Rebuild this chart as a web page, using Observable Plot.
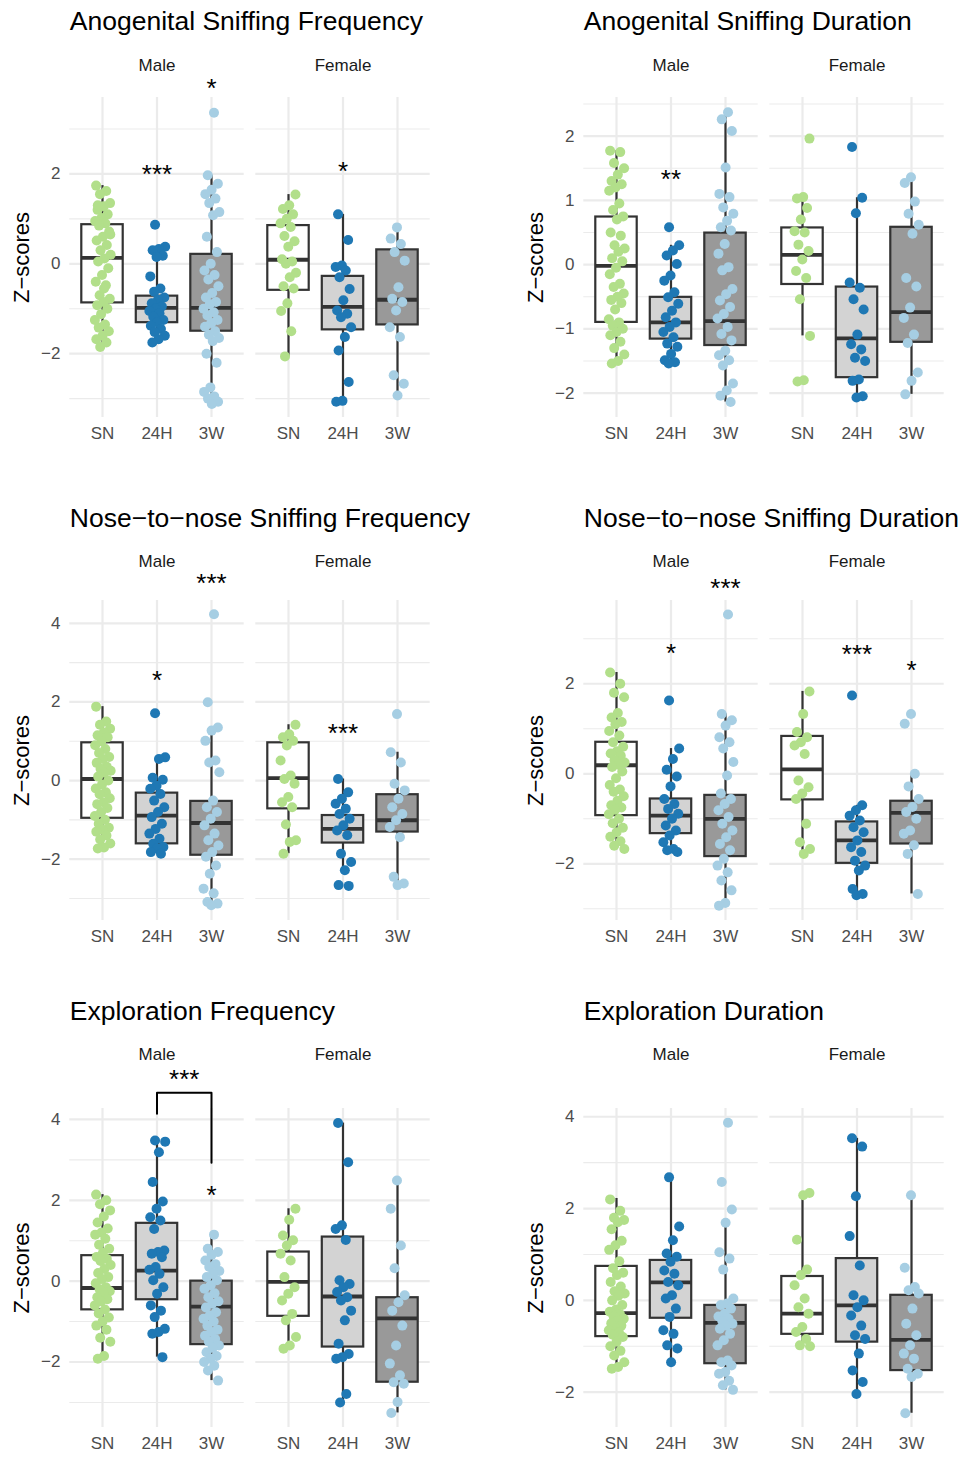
<!DOCTYPE html>
<html><head><meta charset="utf-8">
<script src="https://cdn.jsdelivr.net/npm/d3@7"></script>
<script src="https://cdn.jsdelivr.net/npm/@observablehq/plot@0.6"></script>
<style>
body{margin:0;background:#fff;}
#page{position:relative;width:963px;height:1457px;overflow:hidden;background:#fff;}
#page svg{position:absolute;overflow:visible;}
</style></head><body><div id="page"></div><script>
const groups = ["SN", "24H", "3W"];
const sexes = ["Male", "Female"];
const dotColors = ["#B2DF8A", "#1F78B4", "#A6CEE3"];
const boxFills = ["#FFFFFF", "#D3D3D3", "#999999"];

// ---- Anogenital Sniffing Frequency ----
const agfPoints = {
  "Male SN": [1.74, 1.62, 1.55, 1.35, 1.28, 1.2, 1.1, 1.02, 0.95, 0.9, 0.85, 0.72, 0.6, 0.52, 0.42, 0.3, 0.2, 0.12, 0.05, -0.1, -0.25, -0.4, -0.48, -0.7, -0.78, -0.85, -0.92, -1.0, -1.12, -1.25, -1.35, -1.42, -1.5, -1.6, -1.68, -1.75, -1.85, 0.65, -0.55, 1.3],
  "Male 24H": [0.87, 0.38, 0.33, 0.3, 0.18, 0.15, -0.28, -0.55, -0.62, -0.75, -0.8, -0.88, -0.95, -1.0, -1.05, -1.1, -1.18, -1.25, -1.3, -1.38, -1.45, -1.52, -1.6, -1.68, -1.75],
  "Male 3W": [3.36, 1.97, 1.78, 1.65, 1.55, 1.45, 1.35, 1.15, 1.08, 0.6, 0.26, 0.0, -0.15, -0.25, -0.35, -0.5, -0.65, -0.75, -0.85, -0.9, -1.0, -1.08, -1.15, -1.25, -1.32, -1.4, -1.5, -1.58, -1.65, -1.72, -2.0, -2.2, -2.75, -2.85, -2.95, -3.0, -3.07, -3.12],
  "Female SN": [1.54, 1.3, 1.22, 1.1, 1.0, 0.9, 0.82, 0.62, 0.5, 0.38, 0.1, 0.05, 0.0, -0.2, -0.3, -0.5, -0.55, -0.88, -1.05, -1.5, -2.06],
  "Female 24H": [1.1, 0.53, -0.04, -0.07, -0.15, -0.3, -0.56, -0.81, -1.04, -1.11, -1.19, -1.41, -1.63, -1.93, -2.63, -3.05, -3.07],
  "Female 3W": [0.81, 0.56, 0.44, 0.26, 0.07, -0.52, -0.78, -0.85, -1.04, -1.41, -1.63, -2.48, -2.67, -2.93]
};
// sex, group, lower whisker, q1, median, q3, upper whisker
const agfBoxes = [
  ["Male", "SN", -1.85, -0.87, 0.13, 0.87, 1.74],
  ["Male", "24H", -1.75, -1.31, -0.98, -0.72, 0.15],
  ["Male", "3W", -3.12, -1.5, -0.98, 0.21, 1.97],
  ["Female", "SN", -2.06, -0.59, 0.09, 0.85, 1.54],
  ["Female", "24H", -3.07, -1.47, -0.96, -0.28, 1.1],
  ["Female", "3W", -2.93, -1.36, -0.8, 0.31, 0.81]
];
const agfStars = [["Male", "24H", 2.07, "***"], ["Male", "3W", 3.98, "*"], ["Female", "24H", 2.13, "*"]];

// ---- Anogenital Sniffing Duration ----
const agdPoints = {
  "Male SN": [1.77, 1.75, 1.58, 1.5, 1.4, 1.3, 1.25, 1.2, 1.15, 0.95, 0.85, 0.75, 0.7, 0.5, 0.45, 0.3, 0.25, 0.2, 0.1, 0.05, -0.05, -0.15, -0.3, -0.35, -0.45, -0.5, -0.55, -0.6, -0.7, -0.85, -0.9, -0.95, -1.0, -1.05, -1.1, -1.2, -1.3, -1.4, -1.5, -1.54],
  "Male 24H": [0.58, 0.3, 0.22, 0.14, 0.01, -0.17, -0.25, -0.43, -0.51, -0.61, -0.72, -0.82, -0.9, -0.97, -1.05, -1.13, -1.23, -1.28, -1.39, -1.49, -1.52, -1.54],
  "Male 3W": [2.37, 2.26, 2.08, 1.51, 1.1, 1.05, 0.89, 0.79, 0.68, 0.58, 0.53, 0.32, 0.17, -0.04, -0.09, -0.38, -0.46, -0.56, -0.66, -0.77, -0.84, -0.97, -1.08, -1.18, -1.34, -1.41, -1.49, -1.57, -1.85, -1.96, -2.04, -2.14],
  "Female SN": [1.96, 1.05, 1.03, 0.88, 0.7, 0.52, 0.5, 0.31, 0.21, 0.08, -0.1, -0.21, -0.54, -1.11, -1.8, -1.82],
  "Female 24H": [1.83, 1.04, 0.8, -0.28, -0.36, -0.54, -0.7, -1.09, -1.24, -1.32, -1.45, -1.5, -1.79, -1.81, -2.05, -2.07],
  "Female 3W": [1.36, 1.27, 0.98, 0.79, 0.62, 0.48, -0.21, -0.34, -0.67, -0.83, -1.09, -1.22, -1.68, -1.81, -2.02]
};
const agdBoxes = [
  ["Male", "SN", -1.54, -0.9, -0.02, 0.74, 1.77],
  ["Male", "24H", -1.54, -1.16, -0.9, -0.51, 0.3],
  ["Male", "3W", -2.14, -1.26, -0.88, 0.49, 2.37],
  ["Female", "SN", -1.11, -0.31, 0.15, 0.57, 1.05],
  ["Female", "24H", -2.07, -1.76, -1.15, -0.35, 1.04],
  ["Female", "3W", -2.02, -1.21, -0.74, 0.58, 1.36]
];
const agdStars = [["Male", "24H", 1.37, "**"]];

// ---- Nose-to-nose Sniffing Frequency ----
const nnfPoints = {
  "Male SN": [1.88, 1.5, 1.42, 1.32, 1.22, 1.15, 1.1, 1.0, 0.9, 0.8, 0.7, 0.6, 0.55, 0.45, 0.35, 0.3, 0.25, 0.2, 0.1, 0.0, -0.1, -0.2, -0.3, -0.35, -0.45, -0.55, -0.6, -0.7, -0.8, -0.9, -1.0, -1.1, -1.2, -1.25, -1.3, -1.4, -1.5, -1.6, -1.7, -1.73],
  "Male 24H": [1.71, 0.59, 0.55, 0.07, 0.02, -0.13, -0.21, -0.34, -0.51, -0.68, -0.8, -0.93, -1.1, -1.23, -1.35, -1.48, -1.61, -1.69, -1.73, -1.82, -1.86],
  "Male 3W": [4.23, 1.99, 1.35, 1.27, 1.01, 0.51, 0.46, 0.21, -0.51, -0.68, -0.8, -0.97, -1.14, -1.35, -1.52, -1.65, -1.82, -1.94, -2.16, -2.37, -2.75, -2.87, -3.09, -3.13, -3.17],
  "Female SN": [1.42, 1.18, 1.1, 1.01, 0.89, 0.51, 0.13, 0.04, -0.08, -0.42, -0.55, -0.68, -1.12, -1.52, -1.56, -1.86],
  "Female 24H": [0.04, -0.3, -0.46, -0.59, -0.72, -0.85, -0.97, -1.14, -1.27, -1.39, -1.86, -2.07, -2.28, -2.66, -2.68],
  "Female 3W": [1.69, 0.72, 0.46, -0.08, -0.25, -0.46, -0.68, -0.85, -1.01, -1.18, -1.44, -2.45, -2.62, -2.66]
};
const nnfBoxes = [
  ["Male", "SN", -1.73, -0.96, 0.04, 0.96, 1.88],
  ["Male", "24H", -1.86, -1.61, -0.89, -0.32, 0.59],
  ["Male", "3W", -3.17, -1.9, -1.08, -0.53, 1.35],
  ["Female", "SN", -1.86, -0.72, 0.06, 0.96, 1.42],
  ["Female", "24H", -2.28, -1.59, -1.23, -0.89, 0.04],
  ["Female", "3W", -2.66, -1.31, -1.01, -0.36, 0.72]
];
const nnfStars = [["Male", "24H", 2.63, "*"], ["Male", "3W", 5.09, "***"], ["Female", "24H", 1.27, "***"]];

// ---- Nose-to-nose Sniffing Duration ----
const nndPoints = {
  "Male SN": [2.25, 2.0, 1.8, 1.7, 1.35, 1.25, 1.15, 1.1, 0.95, 0.85, 0.7, 0.6, 0.5, 0.45, 0.4, 0.3, 0.25, 0.2, 0.15, 0.05, -0.1, -0.25, -0.35, -0.4, -0.5, -0.6, -0.7, -0.75, -0.8, -0.9, -1.0, -1.1, -1.2, -1.3, -1.4, -1.5, -1.6, -1.67],
  "Male 24H": [1.63, 0.56, 0.33, 0.09, -0.06, -0.28, -0.56, -0.67, -0.78, -0.89, -1.0, -1.15, -1.26, -1.37, -1.52, -1.67, -1.7, -1.74],
  "Male 3W": [3.54, 1.33, 1.19, 1.07, 0.81, 0.7, 0.56, 0.26, -0.04, -0.44, -0.56, -0.67, -0.81, -0.96, -1.11, -1.26, -1.41, -1.56, -1.7, -1.89, -2.04, -2.19, -2.37, -2.59, -2.87, -2.93],
  "Female SN": [1.83, 1.33, 0.93, 0.81, 0.7, 0.63, 0.44, -0.15, -0.3, -0.44, -0.56, -1.11, -1.52, -1.67, -1.78],
  "Female 24H": [1.74, -0.7, -0.81, -0.93, -1.04, -1.19, -1.3, -1.48, -1.63, -1.74, -1.93, -2.04, -2.15, -2.56, -2.67, -2.7],
  "Female 3W": [1.33, 1.11, 0.0, -0.28, -0.56, -0.74, -0.85, -1.0, -1.26, -1.33, -1.59, -1.78, -2.67]
};
const nndBoxes = [
  ["Male", "SN", -1.67, -0.93, 0.19, 0.7, 2.25],
  ["Male", "24H", -1.74, -1.33, -0.93, -0.56, 0.56],
  ["Male", "3W", -2.93, -1.84, -1.0, -0.48, 1.33],
  ["Female", "SN", -1.78, -0.58, 0.1, 0.83, 1.83],
  ["Female", "24H", -2.7, -1.99, -1.48, -1.07, -0.7],
  ["Female", "3W", -2.67, -1.56, -0.87, -0.61, 0.0]
];
const nndStars = [["Male", "24H", 2.74, "*"], ["Male", "3W", 4.2, "***"], ["Female", "24H", 2.72, "***"], ["Female", "3W", 2.37, "*"]];

// ---- Exploration Frequency ----
const efPoints = {
  "Male SN": [2.14, 2.0, 1.9, 1.75, 1.6, 1.45, 1.3, 1.2, 1.15, 1.05, 0.9, 0.8, 0.7, 0.6, 0.55, 0.5, 0.4, 0.3, 0.2, 0.1, 0.05, -0.05, -0.15, -0.2, -0.25, -0.3, -0.4, -0.45, -0.5, -0.6, -0.7, -0.8, -0.9, -1.0, -1.1, -1.2, -1.4, -1.5, -1.85, -1.92],
  "Male 24H": [3.48, 3.45, 3.19, 2.45, 1.97, 1.79, 1.58, 1.5, 1.29, 0.76, 0.72, 0.68, 0.59, 0.35, 0.28, 0.18, 0.02, -0.15, -0.31, -0.6, -0.73, -0.89, -1.18, -1.26, -1.3, -1.88],
  "Male 3W": [1.15, 0.8, 0.72, 0.65, 0.51, 0.42, 0.35, 0.25, 0.18, 0.1, 0.02, -0.1, -0.19, -0.3, -0.4, -0.5, -0.56, -0.65, -0.77, -0.85, -0.93, -1.0, -1.1, -1.2, -1.26, -1.35, -1.43, -1.5, -1.59, -1.65, -1.76, -1.85, -1.92, -2.0, -2.09, -2.21, -2.46],
  "Female SN": [1.79, 1.52, 1.13, 1.01, 0.88, 0.68, 0.51, 0.1, -0.15, -0.31, -0.48, -0.81, -0.97, -1.38, -1.59, -1.67],
  "Female 24H": [3.91, 2.94, 1.38, 1.29, 1.02, 0.02, -0.07, -0.15, -0.27, -0.4, -0.48, -0.73, -0.97, -1.55, -1.8, -1.88, -1.92, -2.79, -3.0],
  "Female 3W": [2.49, 1.79, 0.88, 0.32, -0.35, -0.52, -0.73, -1.1, -1.59, -2.04, -2.33, -2.5, -2.54, -2.99, -3.26]
};
const efBoxes = [
  ["Male", "SN", -1.92, -0.71, -0.17, 0.63, 2.14],
  ["Male", "24H", -1.88, -0.46, 0.26, 1.43, 3.48],
  ["Male", "3W", -2.46, -1.57, -0.63, 0.0, 1.15],
  ["Female", "SN", -1.67, -0.87, -0.02, 0.72, 1.79],
  ["Female", "24H", -3.0, -1.63, -0.38, 1.09, 3.91],
  ["Female", "3W", -3.26, -2.5, -0.92, -0.41, 2.49]
];
const efStars = [["Male", "3W", 2.2, "*"]];
// comparison bracket between 24H and 3W (Male)
const efBracket = [["24H", 4.14], ["24H", 4.66], ["3W", 4.66], ["3W", 2.93]];
const efBracketLabel = {sex: "Male", from: "24H", to: "3W", y: 5.07, text: "***"};

// ---- Exploration Duration ----
const edPoints = {
  "Male SN": [2.2, 1.95, 1.8, 1.75, 1.7, 1.55, 1.3, 1.2, 1.1, 0.85, 0.7, 0.6, 0.55, 0.4, 0.3, 0.2, 0.15, 0.1, 0.0, -0.1, -0.2, -0.25, -0.3, -0.35, -0.4, -0.45, -0.5, -0.55, -0.6, -0.65, -0.7, -0.75, -0.8, -0.9, -1.0, -1.1, -1.2, -1.35, -1.45, -1.49],
  "Male 24H": [2.68, 1.61, 1.31, 1.02, 0.95, 0.84, 0.65, 0.58, 0.4, 0.33, 0.11, 0.04, -0.18, -0.36, -0.65, -0.73, -0.98, -1.05, -1.35],
  "Male 3W": [3.87, 2.58, 1.98, 1.69, 1.05, 0.91, 0.67, 0.04, -0.07, -0.1, -0.18, -0.29, -0.35, -0.4, -0.45, -0.51, -0.55, -0.62, -0.73, -0.87, -0.98, -1.31, -1.35, -1.42, -1.56, -1.6, -1.75, -1.85, -1.95],
  "Female SN": [2.34, 2.29, 1.32, 0.67, 0.55, 0.33, 0.04, -0.15, -0.29, -0.58, -0.69, -0.84, -0.98, -1.0],
  "Female 24H": [3.53, 3.35, 2.27, 1.4, 0.76, 0.11, 0.0, -0.15, -0.33, -0.55, -0.76, -0.84, -1.16, -1.53, -1.78, -2.04],
  "Female 3W": [2.29, 0.71, 0.29, 0.22, 0.15, -0.18, -0.51, -0.76, -0.98, -1.16, -1.27, -1.49, -1.6, -1.67, -2.46]
};
const edBoxes = [
  ["Male", "SN", -1.49, -0.79, -0.28, 0.74, 2.22],
  ["Male", "24H", -1.35, -0.39, 0.39, 0.87, 2.68],
  ["Male", "3W", -1.95, -1.38, -0.49, -0.11, 1.69],
  ["Female", "SN", -1.0, -0.74, -0.29, 0.52, 2.34],
  ["Female", "24H", -2.04, -0.91, -0.11, 0.91, 3.53],
  ["Female", "3W", -2.46, -1.53, -0.86, 0.11, 2.29]
];
const edStars = [];

// panel titles and y tick labels
const titles = ["Anogenital Sniffing Frequency", "Anogenital Sniffing Duration", "Nose\u2212to\u2212nose Sniffing Frequency", "Nose\u2212to\u2212nose Sniffing Duration", "Exploration Frequency", "Exploration Duration"];
const yTicks = [[-2, 0, 2], [-2, -1, 0, 1, 2], [-2, 0, 2, 4], [-2, 0, 2], [-2, 0, 2, 4], [-2, 0, 2, 4]];
const yMinor = [[-3, -1, 1, 3], [-1.5, -0.5, 0.5, 1.5, 2.5], [-3, -1, 1, 3], [-3, -1, 1, 3], [-3, -1, 1, 3], [-1, 1, 3]];
const yDomains = [[-3.42, 3.70], [-2.38, 2.60], [-3.56, 4.58], [-3.26, 3.85], [-3.62, 4.27], [-2.77, 4.18]];

const FONT = '"Liberation Sans", Arial, Helvetica, sans-serif';
const rowsLayout = [
  {top: 0, panelTop: 97, panelBottom: 417, height: 457, strip: 65.2},
  {top: 497, panelTop: 600, panelBottom: 920, height: 463, strip: 561},
  {top: 990, panelTop: 1108, panelBottom: 1427, height: 467, strip: 1054}
];
const colLeft = [0, 514];

function gx(g) { return groups.indexOf(g) + 1; }
function jitter(i, k) { const f = (i * 0.6180339887 + k * 0.2718 + 0.11) % 1; return (f - 0.5) * 0.3; }
function fmtTick(d) { return (d < 0 ? "\u2212" : "") + Math.abs(d); }
function pointRows(obj) {
  const rows = [];
  sexes.forEach((sex, si) => groups.forEach((g, gi) => {
    (obj[sex + " " + g] || []).forEach((v, i) => rows.push({sex, gi, v, j: jitter(i, gi + 3 * si)}));
  }));
  return rows;
}
function boxRows(arr) {
  return arr.map(([sex, g, lo, q1, med, q3, hi]) => ({sex, gi: groups.indexOf(g), lo, q1, med, q3, hi}));
}

const panels = [
  {points: agfPoints, boxes: agfBoxes, stars: agfStars},
  {points: agdPoints, boxes: agdBoxes, stars: agdStars},
  {points: nnfPoints, boxes: nnfBoxes, stars: nnfStars},
  {points: nndPoints, boxes: nndBoxes, stars: nndStars},
  {points: efPoints, boxes: efBoxes, stars: efStars, bracket: efBracket, bracketLabel: efBracketLabel},
  {points: edPoints, boxes: edBoxes, stars: edStars}
];

const page = document.getElementById("page");
const BW = 0.38, LINE = "#333333", STAR_DY = 3.5;

panels.forEach((p, k) => {
  const row = rowsLayout[Math.floor(k / 2)];
  const col = k % 2;
  const pts = pointRows(p.points);
  const bx = boxRows(p.boxes);
  const marks = [
    Plot.ruleY(yMinor[k], {stroke: "#EBEBEB", strokeWidth: 1.1}),
    Plot.ruleY(yTicks[k], {stroke: "#EBEBEB", strokeWidth: 2.2}),
    Plot.ruleX([1, 2, 3], {stroke: "#EBEBEB", strokeWidth: 2.2}),
    Plot.ruleX(bx, {fx: "sex", x: d => d.gi + 1, y1: "q3", y2: "hi", stroke: LINE, strokeWidth: 2.2}),
    Plot.ruleX(bx, {fx: "sex", x: d => d.gi + 1, y1: "lo", y2: "q1", stroke: LINE, strokeWidth: 2.2}),
    Plot.rect(bx, {fx: "sex", x1: d => d.gi + 1 - BW, x2: d => d.gi + 1 + BW, y1: "q1", y2: "q3", fill: d => boxFills[d.gi], stroke: LINE, strokeWidth: 2.2}),
    Plot.ruleY(bx, {fx: "sex", x1: d => d.gi + 1 - BW, x2: d => d.gi + 1 + BW, y: "med", stroke: LINE, strokeWidth: 3.8}),
    Plot.dot(pts, {fx: "sex", x: d => d.gi + 1 + d.j, y: "v", r: 5, fill: d => dotColors[d.gi], stroke: "none"}),
    Plot.text(p.stars, {fx: d => d[0], x: d => gx(d[1]), y: d => d[2], text: d => d[3], fontSize: 26, lineAnchor: "middle", dy: STAR_DY, fill: "black"}),
    Plot.axisX({ticks: [1, 2, 3], tickFormat: d => groups[d - 1], tickSize: 0, tickPadding: 9.5, fontSize: 17, color: "#4D4D4D", label: null}),
    Plot.axisY({ticks: yTicks[k], tickFormat: fmtTick, tickSize: 0, tickPadding: 9.3, fontSize: 17, color: "#4D4D4D", label: null}),
    Plot.text(sexes, {fx: d => d, text: d => d, frameAnchor: "top", lineAnchor: "middle", dy: row.strip - row.panelTop, fontSize: 17, fill: "#1A1A1A"}),
    Plot.text(["Z\u2212scores"], {fx: ["Male"], text: d => d, frameAnchor: "left", textAnchor: "middle", lineAnchor: "middle", dx: -48.3, rotate: -90, fontSize: 22, fill: "black"}),
    Plot.text([titles[k]], {fx: ["Male"], text: d => d, frameAnchor: "top-left", textAnchor: "start", lineAnchor: "top", dy: row.top + 10.5 - row.panelTop, fontSize: 26.5, fill: "black"})
  ];
  if (p.bracket) {
    marks.push(Plot.line(p.bracket, {fx: () => p.bracketLabel.sex, x: d => gx(d[0]), y: d => d[1], stroke: "black", strokeWidth: 2}));
    marks.push(Plot.text([p.bracketLabel], {fx: d => d.sex, x: d => (gx(d.from) + gx(d.to)) / 2, y: d => d.y, text: d => d.text, fontSize: 26, lineAnchor: "middle", dy: STAR_DY, fill: "black"}));
  }
  const svg = Plot.plot({
    width: 449,
    height: row.height,
    marginLeft: 69.3,
    marginRight: 19.3,
    marginTop: row.panelTop - row.top,
    marginBottom: row.top + row.height - row.panelBottom,
    style: {fontFamily: FONT, fontSize: "17px", background: "white", overflow: "visible"},
    fx: {domain: sexes, paddingInner: 0.0624, paddingOuter: 0, round: false, axis: null, label: null},
    x: {domain: [0.4, 3.6], axis: null},
    y: {domain: yDomains[k], axis: null},
    color: {type: "identity"},
    marks
  });
  svg.style.left = colLeft[col] + "px";
  svg.style.top = row.top + "px";
  page.appendChild(svg);
});
</script></body></html>
